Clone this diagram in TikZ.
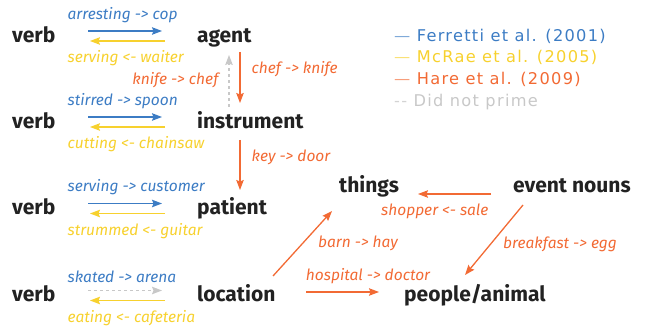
\documentclass[tikz,border=0pt]{standalone}
\usepackage{fontspec}
\setmainfont{Fira Sans}
\newfontfamily\legfont{DejaVu Sans}[LetterSpace=8]
\usetikzlibrary{arrows.meta,positioning}
\definecolor{ink}{HTML}{222222}
\definecolor{ferretti}{HTML}{3C7CC4}
\definecolor{mcrae}{HTML}{F7D12E}
\definecolor{hare}{HTML}{F26A34}
\definecolor{noprime}{HTML}{C8C8C8}
\begin{document}
\begin{tikzpicture}[%
    x=1pt, y=-1pt,                       % pixel grid, y runs downward
    >={Stealth[length=10pt,width=7.5pt,inset=1.5pt]}, % Nice arrows
    ]
% -------------------------------------------------
% A few styles
\tikzset{
  word/.style={font=\fontsize{21}{24}\selectfont\bfseries, text=ink, inner sep=0pt, anchor=base west},
  lab/.style={font=\fontsize{15.5}{18}\selectfont\itshape, inner sep=1pt},
  leg/.style={font=\legfont\fontsize{16.2}{19}\selectfont, inner sep=0pt, anchor=base west},
  % labels of the verb pairs all start at the same x
  up/.style={lab, above=6.5pt, anchor=south west, pos=0, xshift=-22pt},
  down/.style={lab, below=8pt, anchor=north west, pos=1, xshift=-24pt},
  % Connector line styles, one per study
  fe/.style={->, draw=ferretti, line width=1.3pt, text=ferretti},
  mc/.style={->, draw=mcrae, line width=1.3pt, text=mcrae},
  ha/.style={->, draw=hare, line width=1.3pt, text=hare},
  np/.style={->, draw=noprime, line width=1.3pt, dashed}
}
\useasboundingbox (0,0) rectangle (649,331);
% -------------------------------------------------
% Start by placing the nodes
\node [word] (v1) at (12,42.5) {verb};
\node [word] (agent) at (197,42.5) {agent};
\node [word] (v2) at (12,128.5) {verb};
\node [word] (instr) at (197,128.5) {instrument};
\node [word] (v3) at (12,215) {verb};
\node [word] (patient) at (197,215) {patient};
\node [word] (v4) at (12,302) {verb};
\node [word] (loc) at (197,302) {location};
\node [word] (things) at (339,193) {things};
\node [word] (events) at (513,193) {event nouns};
\node [word] (people) at (404,302) {people/animal};

% legend
\node [leg, text=ferretti] (lfe) at (394,41.5) {{\color{ferretti!65}\textemdash}\ Ferretti et al. (2001)};
\node [leg, text=mcrae] (lmc) at (394,63) {{\color{mcrae!65}\textemdash}\ McRae et al. (2005)};
\node [leg, text=hare] (lha) at (394,85) {{\color{hare!65}\textemdash}\ Hare et al. (2009)};
\node [leg, text=noprime] (lnp) at (394,107) {{\color{noprime!80}-{}-}\ Did not prime};

% -------------------------------------------------
% verb <-> role pairs
\draw[fe] ([shift={(76pt,11.5pt)}]v1.base west) -- node[up] {arresting -{}> cop} ([shift={(-35pt,11.5pt)}]agent.base west);
\draw[mc] ([shift={(-32pt,1.5pt)}]agent.base west) -- node[down] {serving <-{} waiter} ([shift={(78pt,1.5pt)}]v1.base west);
\draw[fe] ([shift={(76pt,11.5pt)}]v2.base west) -- node[up] {stirred -{}> spoon} ([shift={(-35pt,11.5pt)}]instr.base west);
\draw[mc] ([shift={(-32pt,1.5pt)}]instr.base west) -- node[down] {cutting <-{} chainsaw} ([shift={(78pt,1.5pt)}]v2.base west);
\draw[fe] ([shift={(76pt,11.5pt)}]v3.base west) -- node[up] {serving -{}> customer} ([shift={(-35pt,11.5pt)}]patient.base west);
\draw[mc] ([shift={(-32pt,1.5pt)}]patient.base west) -- node[down] {strummed <-{} guitar} ([shift={(78pt,1.5pt)}]v3.base west);
\draw[np] ([shift={(76pt,11.5pt)}]v4.base west) -- node[up, text=ferretti] {skated -{}> arena} ([shift={(-35pt,11.5pt)}]loc.base west);
\draw[mc] ([shift={(-32pt,1.5pt)}]loc.base west) -- node[down] {eating <-{} cafeteria} ([shift={(78pt,1.5pt)}]v4.base west);

% role -> role
\draw[ha] ([shift={(43pt,-9.5pt)}]agent.base west) -- node[lab, right=10pt, pos=0.33] {chef -{}> knife} ([shift={(43pt,25.5pt)}]instr.base west);
\draw[np] ([shift={(32pt,21.5pt)}]instr.base west) -- node[lab, left=9pt, pos=0.52, text=hare] {knife -{}> chef} ([shift={(32pt,-12.5pt)}]agent.base west);
\draw[ha] ([shift={(43pt,-11.5pt)}]instr.base west) -- node[lab, right=10pt, pos=0.34] {key -{}> door} ([shift={(43pt,25pt)}]patient.base west);

% location and event nouns
\draw[ha] ([shift={(76pt,26pt)}]loc.base west) -- node[lab, right=14pt] {barn -{}> hay} ([shift={(-7pt,-18pt)}]things.base west);
\draw[ha] ([shift={(109pt,10pt)}]loc.base west) -- node[lab, above=7pt, pos=0.85] {hospital -{}> doctor} ([shift={(-25pt,10pt)}]people.base west);
\draw[ha] ([shift={(-22pt,-1pt)}]events.base west) -- node[lab, below=8pt, pos=0.77] {shopper <-{} sale} ([shift={(79pt,-1pt)}]things.base west);
\draw[ha] ([shift={(10pt,-12pt)}]events.base west) -- node[lab, right=11pt, pos=0.56] {breakfast -{}> egg} ([shift={(61pt,27pt)}]people.base west);

% -------------------------------------------------
\end{tikzpicture}
\end{document}
